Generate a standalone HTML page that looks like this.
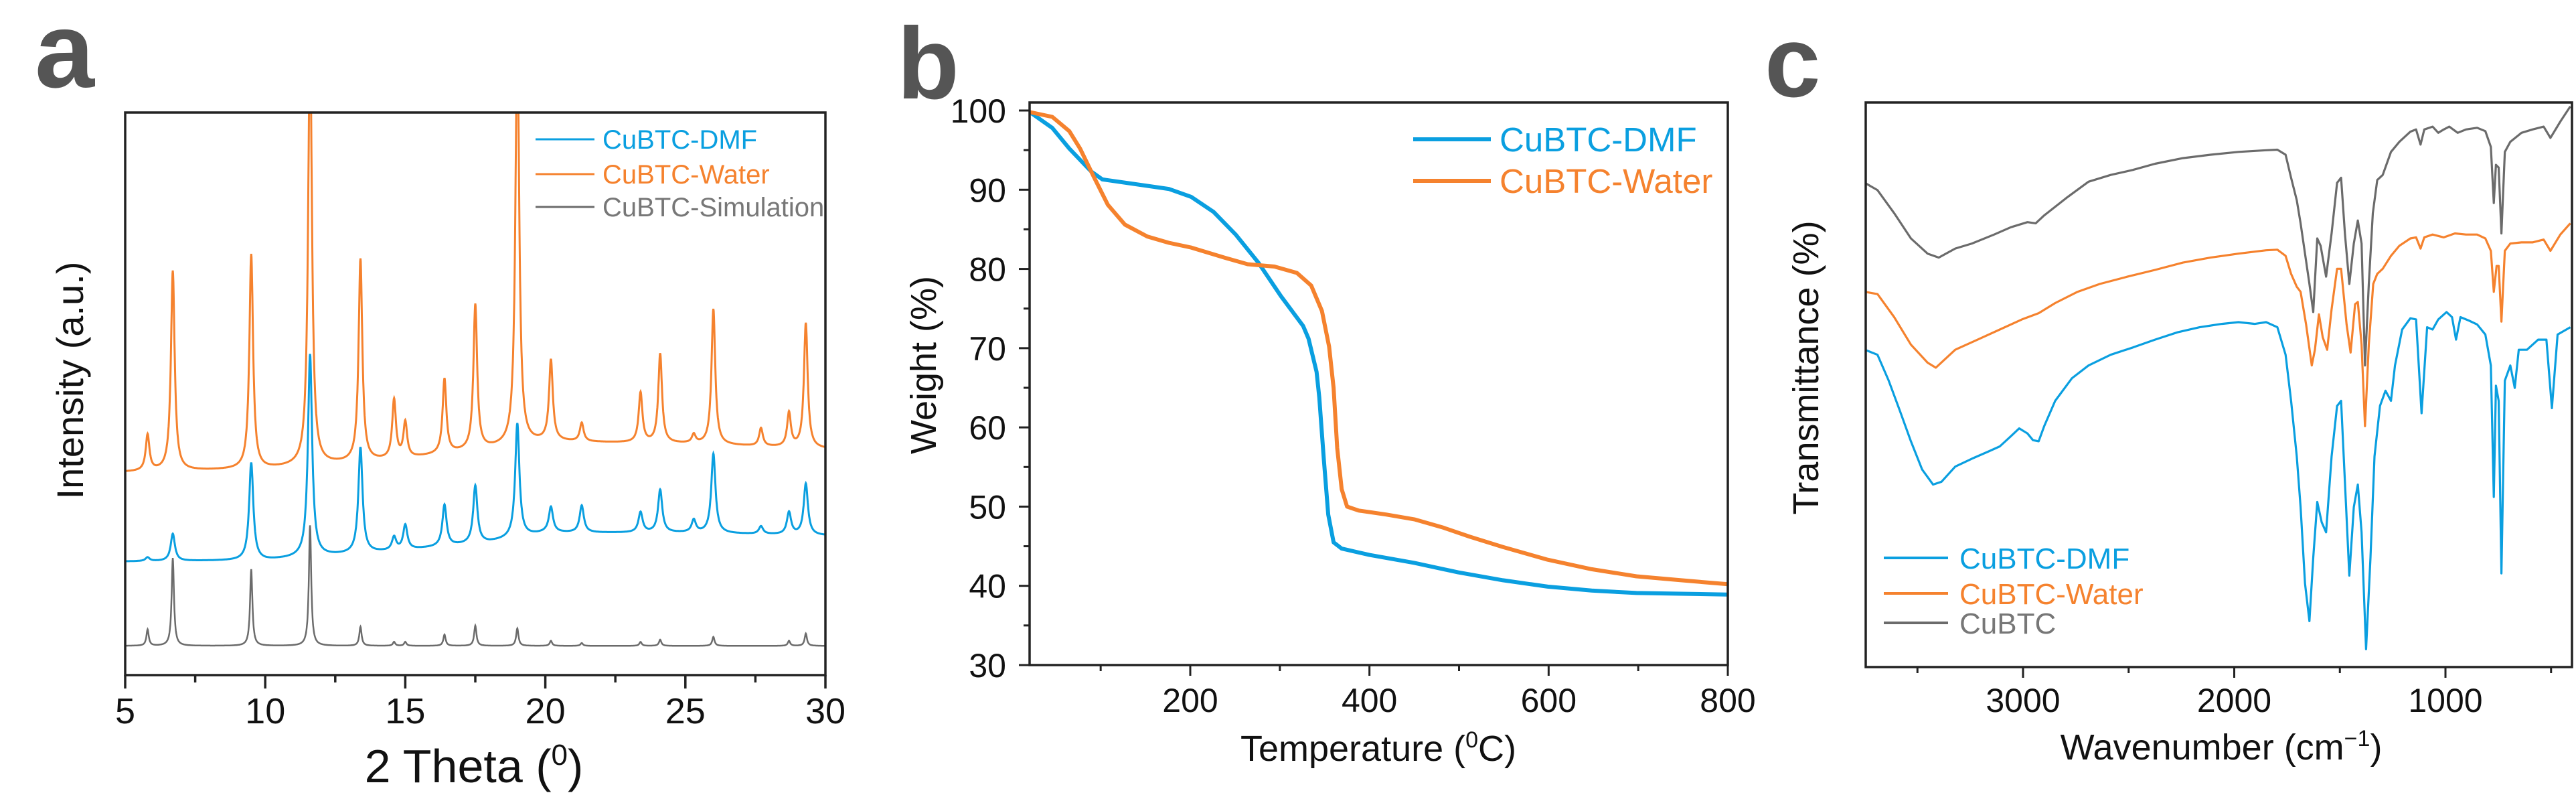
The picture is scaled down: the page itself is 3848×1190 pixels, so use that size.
<!DOCTYPE html>
<html><head><meta charset="utf-8"><style>
html,body{margin:0;padding:0;background:#fff;}
svg{display:block;font-family:"Liberation Sans",Arial,sans-serif;}
</style></head><body>
<svg id="fig" width="3848" height="1190" viewBox="0 0 3848 1190" xmlns="http://www.w3.org/2000/svg">
<defs>
<clipPath id="clipA"><rect x="187" y="168" width="1046" height="840"/></clipPath>
<clipPath id="clipB"><rect x="1538" y="153" width="1045" height="840"/></clipPath>
<clipPath id="clipC"><rect x="2787" y="153" width="1055" height="843"/></clipPath>
</defs>
<text x="52" y="130" font-size="160" font-weight="bold" fill="#555">a</text>
<text x="1340" y="147" font-size="152" font-weight="bold" fill="#555">b</text>
<text x="2636" y="144" font-size="150" font-weight="bold" fill="#555">c</text>
<g id="gA"></g>
<g id="gB"></g>
<g id="gC"></g>
</svg>
<script>
// ---------- Panel a: XRD ----------
const xrdTicks = [5, 10, 15, 20, 25, 30];
const xrdPeakPos = [5.8, 6.7, 9.5, 11.6, 13.4, 14.6, 15.0, 16.4, 17.5, 19.0, 20.2, 21.3, 23.4, 24.1, 25.3, 26.0, 27.7, 28.7, 29.3];
const waterApex = [42.6, 71.8, 74.7, 115, 73.8, 48.7, 44.7, 52.5, 65.7, 115, 55.8, 44.7, 50.1, 57.0, 42.6, 65.0, 43.8, 46.5, 62.5];
const dmfApex = [20.9, 25.1, 37.7, 57.0, 40.4, 24.4, 26.6, 30.2, 33.6, 44.7, 29.8, 30.1, 28.9, 32.9, 27.5, 39.3, 26.4, 28.9, 34.0];
const simApex = [8.1, 20.8, 18.8, 26.6, 8.6, 5.9, 5.9, 7.2, 8.8, 8.3, 6.1, 5.7, 5.9, 6.3, 5.2, 6.8, 5.2, 6.1, 7.4];
const baseX = [5, 10, 15, 18, 20, 25, 30];
const waterBase = [36.1, 36.6, 38.4, 40.2, 41.5, 41.1, 40.2];
const dmfBase = [20.2, 20.4, 22.2, 23.6, 25.3, 25.3, 24.8];
const simBase = [5.2, 5.2, 5.2, 5.2, 5.2, 5.2, 5.2];

// ---------- Panel b: TGA ----------
const tgaXTicks = [200, 400, 600, 800];
const tgaYTicks = [30, 40, 50, 60, 70, 80, 90, 100];
const dmfT = [21, 46, 65, 89.5, 102, 139, 176, 201, 226, 251, 276, 301, 326, 332, 341, 344, 349, 354, 360, 369, 400, 450, 499, 549, 599, 648, 698, 800];
const dmfW = [99.8, 97.8, 95.2, 92.3, 91.3, 90.7, 90.1, 89.1, 87.2, 84.3, 80.8, 76.6, 72.8, 71.2, 67, 63.8, 56.1, 49, 45.5, 44.7, 43.9, 42.9, 41.7, 40.7, 39.9, 39.4, 39.1, 38.9];
const waterT = [21, 46, 65, 77, 92, 108, 127, 152, 176, 201, 239, 264, 294, 319, 335, 347, 355, 360, 364, 369, 375, 388, 419, 450, 481, 512, 549, 599, 648, 698, 748, 800];
const waterW = [99.8, 99.2, 97.4, 95.2, 91.7, 88.1, 85.6, 84.1, 83.3, 82.7, 81.4, 80.6, 80.3, 79.5, 77.9, 74.7, 70.2, 65, 57.4, 52.2, 50, 49.5, 49, 48.4, 47.4, 46.2, 44.9, 43.3, 42.1, 41.2, 40.7, 40.2];

// ---------- Panel c: FTIR ----------
const irTicks = [3000, 2000, 1000];
const irMinor = [3500, 2500, 1500, 500];
const simIR = [[3749,85.7],[3689,84.4],[3610,80.3],[3531,75.8],[3452,73.1],[3399,72.4],[3321,74.0],[3242,74.9],[3137,76.5],[3058,77.8],[2979,78.7],[2940,78.5],[2900,79.9],[2795,83.0],[2690,85.9],[2585,87.1],[2480,88.0],[2375,89.1],[2243,90.1],[2112,90.7],[1980,91.2],[1849,91.5],[1796,91.6],[1757,90.7],[1731,86.6],[1704,82.6],[1686,78.5],[1665,73.1],[1644,67.7],[1626,62.7],[1607,75.8],[1591,74.5],[1565,69.0],[1539,76.7],[1513,85.7],[1494,86.6],[1476,76.7],[1455,67.7],[1434,74.9],[1415,79.0],[1397,74.9],[1381,53.2],[1363,67.7],[1344,80.3],[1323,86.2],[1297,87.1],[1258,91.2],[1218,93.0],[1166,94.8],[1139,95.2],[1118,92.5],[1100,95.2],[1061,95.7],[1034,94.6],[1008,95.2],[982,95.7],[942,94.6],[903,95.2],[850,95.5],[811,94.9],[785,92.1],[771,82.1],[761,88.9],[748,88.4],[735,76.7],[719,91.2],[693,93.0],[640,94.6],[588,95.2],[535,95.7],[503,93.7],[456,96.6],[409,99.3]];
const waterIR = [[3749,66.3],[3689,65.9],[3610,61.8],[3531,56.9],[3452,53.7],[3413,52.8],[3321,56.0],[3215,57.8],[3110,59.6],[3005,61.4],[2926,62.5],[2848,64.3],[2742,66.3],[2637,67.7],[2506,69.0],[2375,70.2],[2243,71.5],[2112,72.4],[1980,73.1],[1849,73.7],[1796,73.8],[1757,72.7],[1731,69.5],[1704,67.2],[1686,66.3],[1660,60.5],[1633,53.2],[1618,56.0],[1599,62.3],[1581,58.2],[1560,56.0],[1539,63.2],[1513,70.4],[1494,70.4],[1468,60.5],[1449,55.5],[1428,64.1],[1415,64.5],[1397,56.9],[1381,42.4],[1363,56.9],[1342,67.7],[1323,69.5],[1297,70.4],[1258,72.7],[1218,74.5],[1166,75.8],[1139,76.0],[1118,74.0],[1100,76.0],[1061,76.5],[1008,76.0],[955,76.7],[903,76.5],[850,76.5],[811,75.8],[785,73.6],[771,66.3],[758,70.9],[748,70.9],[735,61.0],[719,73.6],[693,74.9],[640,75.1],[588,75.1],[535,75.6],[503,73.6],[456,76.5],[409,78.5]];
const dmfIR = [[3749,56.0],[3689,55.1],[3636,50.5],[3583,45.1],[3531,39.7],[3478,34.7],[3426,32.0],[3386,32.5],[3321,35.2],[3242,36.6],[3163,37.9],[3110,38.8],[3058,40.6],[3018,42.0],[2979,41.1],[2953,39.9],[2926,39.7],[2900,42.4],[2848,46.9],[2769,50.9],[2690,53.2],[2585,55.1],[2480,56.4],[2375,57.8],[2269,59.1],[2164,60.0],[2059,60.6],[1980,60.9],[1902,60.6],[1849,60.9],[1796,60.0],[1757,55.1],[1731,46.9],[1704,37.0],[1686,28.0],[1665,14.4],[1644,7.7],[1626,19.0],[1607,28.9],[1586,25.3],[1565,23.5],[1539,37.0],[1513,46.0],[1494,46.9],[1476,32.5],[1455,15.8],[1434,28.0],[1415,32.0],[1397,23.5],[1376,2.7],[1355,19.0],[1336,37.0],[1310,46.0],[1284,48.7],[1258,46.9],[1239,53.2],[1205,59.6],[1166,61.6],[1139,61.4],[1113,44.7],[1087,60.0],[1061,59.6],[1034,61.4],[995,62.7],[969,61.8],[950,57.8],[929,61.8],[890,61.2],[850,60.5],[811,58.7],[785,53.2],[771,29.8],[761,49.6],[748,46.9],[735,16.2],[719,50.5],[693,53.2],[672,49.2],[653,56.0],[614,56.0],[561,57.8],[522,57.8],[496,45.6],[469,58.7],[409,60.0]];

const NS = "http://www.w3.org/2000/svg";
function mk(parent, tag, attrs, text) {
  const el = document.createElementNS(NS, tag);
  for (const k in attrs) el.setAttribute(k, attrs[k]);
  if (text !== undefined) el.textContent = text;
  parent.appendChild(el);
  return el;
}
function interp(xs, ys, x) {
  if (x <= xs[0]) return ys[0];
  for (let i = 1; i < xs.length; i++) if (x <= xs[i]) { const t = (x - xs[i-1]) / (xs[i] - xs[i-1]); return ys[i-1] + t * (ys[i] - ys[i-1]); }
  return ys[ys.length - 1];
}
const BLUE = "#0a9fe0", ORANGE = "#f5822e", GRAY = "#6b6b6b";

// ===== Panel A =====
(function(){
  const g = document.getElementById("gA");
  const L = 187, R = 1233, T = 168, B = 1008;
  const xs = v => L + (v - 5) / 25 * (R - L);
  const ys = v => B - v / 100 * (B - T);
  function series(apex, bx, by, hw) {
    const pts = [];
    for (let x = 5; x <= 30.0001; x += 0.01) {
      let y = interp(bx, by, x);
      for (let i = 0; i < xrdPeakPos.length; i++) {
        const amp = apex[i] - interp(bx, by, xrdPeakPos[i]);
        const d = (x - xrdPeakPos[i]) / hw;
        y += amp / (1 + d * d);
      }
      pts.push(xs(x).toFixed(1) + "," + ys(y).toFixed(1));
    }
    return "M" + pts.join("L");
  }
  const clip = mk(g, "g", {"clip-path": "url(#clipA)"});
  const s1 = mk(clip, "path", {d: series(simApex, baseX, simBase, 0.05), fill: "none", stroke: GRAY, "stroke-width": 2.5});
  
  
  const s2 = mk(clip, "path", {d: series(dmfApex, baseX, dmfBase, 0.09), fill: "none", stroke: BLUE, "stroke-width": 3});
  
  
  const s3 = mk(clip, "path", {d: series(waterApex, baseX, waterBase, 0.08), fill: "none", stroke: ORANGE, "stroke-width": 3});
  
  
  const box = mk(g, "rect", {x: L, y: T, width: R - L, height: B - T, fill: "none", stroke: "#222", "stroke-width": 3.5});
  
  
  for (let v = 5; v <= 30; v += 2.5) {
    const major = xrdTicks.indexOf(v) >= 0;
    const t = mk(g, "line", {x1: xs(v), x2: xs(v), y1: B, y2: B + (major ? 20 : 11), stroke: "#222", "stroke-width": 3.5});
    
    
  }
  xrdTicks.forEach(v => {
    const t = mk(g, "text", {x: xs(v), y: 1080, "font-size": 54, "text-anchor": "middle", fill: "#111"}, String(v));
    
    
  });
  const xt = mk(g, "text", {x: 708, y: 1168, "font-size": 70, "text-anchor": "middle", fill: "#111"});
  
  
  xt.innerHTML = '2 Theta (<tspan dy="-26" font-size="44">0</tspan><tspan dy="26">)</tspan>';
  const yt = mk(g, "text", {x: 0, y: 0, "font-size": 56, "text-anchor": "middle", fill: "#111", transform: "translate(124,568) rotate(-90)"}, "Intensity (a.u.)");
  
  
  const leg = [["CuBTC-DMF", BLUE, 208, BLUE], ["CuBTC-Water", ORANGE, 260, ORANGE], ["CuBTC-Simulation", GRAY, 309, "#777"]];
  leg.forEach(l => {
    const ln = mk(g, "line", {x1: 800, x2: 888, y1: l[2], y2: l[2], stroke: l[1], "stroke-width": 3});
    
    
    const tx = mk(g, "text", {x: 900, y: l[2] + 14, "font-size": 40, fill: l[3]}, l[0]);
    
    
  });
})();

// ===== Panel B =====
(function(){
  const g = document.getElementById("gB");
  const L = 1538, R = 2581, T = 153, B = 993;
  const xs = v => 1778 + (v - 200) * (R - 1778) / 600;
  const ys = v => 165 + (100 - v) * (B - 165) / 70;
  const clip = mk(g, "g", {"clip-path": "url(#clipB)"});
  function path(tx, wy) { return "M" + tx.map((t, i) => xs(t).toFixed(1) + "," + ys(wy[i]).toFixed(1)).join("L"); }
  const p1 = mk(clip, "path", {d: path(dmfT, dmfW), fill: "none", stroke: BLUE, "stroke-width": 6, "stroke-linejoin": "round"});
  
  
  const p2 = mk(clip, "path", {d: path(waterT, waterW), fill: "none", stroke: ORANGE, "stroke-width": 6, "stroke-linejoin": "round"});
  
  
  const box = mk(g, "rect", {x: L, y: T, width: R - L, height: B - T, fill: "none", stroke: "#222", "stroke-width": 3.5});
  
  
  for (let v = 100; v <= 800; v += 100) {
    const major = tgaXTicks.indexOf(v) >= 0;
    const t = mk(g, "line", {x1: xs(v), x2: xs(v), y1: B, y2: B + (major ? 16 : 9), stroke: "#222", "stroke-width": 3});
    
    
  }
  tgaXTicks.forEach(v => {
    const t = mk(g, "text", {x: xs(v), y: 1063, "font-size": 50, "text-anchor": "middle", fill: "#111"}, String(v));
    
    
  });
  for (let v = 30; v <= 100; v += 5) {
    const major = tgaYTicks.indexOf(v) >= 0;
    const t = mk(g, "line", {x1: L - (major ? 16 : 9), x2: L, y1: ys(v), y2: ys(v), stroke: "#222", "stroke-width": 3});
    
    
  }
  tgaYTicks.forEach(v => {
    const t = mk(g, "text", {x: 1503, y: ys(v) + 18, "font-size": 50, "text-anchor": "end", fill: "#111"}, String(v));
    
    
  });
  const xt = mk(g, "text", {x: 2059, y: 1136, "font-size": 54, "text-anchor": "middle", fill: "#111"});
  
  
  xt.innerHTML = 'Temperature (<tspan dy="-20" font-size="34">0</tspan><tspan dy="20">C)</tspan>';
  const yt = mk(g, "text", {x: 0, y: 0, "font-size": 54, "text-anchor": "middle", fill: "#111", transform: "translate(1398,545) rotate(-90)"}, "Weight (%)");
  
  
  const leg = [["CuBTC-DMF", BLUE, 208], ["CuBTC-Water", ORANGE, 270]];
  leg.forEach(l => {
    const ln = mk(g, "line", {x1: 2111, x2: 2227, y1: l[2], y2: l[2], stroke: l[1], "stroke-width": 6});
    
    
    const tx = mk(g, "text", {x: 2240, y: l[2] + 18, "font-size": 51, fill: l[1]}, l[0]);
    
    
  });
})();

// ===== Panel C =====
(function(){
  const g = document.getElementById("gC");
  const L = 2787, R = 3842, T = 153, B = 996;
  const xs = v => 3022 + (3000 - v) * 0.3155;
  const ys = v => 992 - v / 100 * (992 - 153);
  const clip = mk(g, "g", {"clip-path": "url(#clipC)"});
  function path(arr) { return "M" + arr.map(p => xs(p[0]).toFixed(1) + "," + ys(p[1]).toFixed(1)).join("L"); }
  const p0 = mk(clip, "path", {d: path(simIR), fill: "none", stroke: GRAY, "stroke-width": 3.2, "stroke-linejoin": "round"});
  
  
  const p1 = mk(clip, "path", {d: path(waterIR), fill: "none", stroke: ORANGE, "stroke-width": 3.2, "stroke-linejoin": "round"});
  
  
  const p2 = mk(clip, "path", {d: path(dmfIR), fill: "none", stroke: BLUE, "stroke-width": 3.2, "stroke-linejoin": "round"});
  
  
  const box = mk(g, "rect", {x: L, y: T, width: R - L, height: B - T, fill: "none", stroke: "#222", "stroke-width": 3.5});
  
  
  irTicks.forEach(v => {
    const t = mk(g, "line", {x1: xs(v), x2: xs(v), y1: B, y2: B + 16, stroke: "#222", "stroke-width": 3});
    
    
    const lb = mk(g, "text", {x: xs(v), y: 1063, "font-size": 50, "text-anchor": "middle", fill: "#111"}, String(v));
    
    
  });
  irMinor.forEach(v => {
    const t = mk(g, "line", {x1: xs(v), x2: xs(v), y1: B, y2: B + 9, stroke: "#222", "stroke-width": 3});
    
    
  });
  const xt = mk(g, "text", {x: 3318, y: 1134, "font-size": 54, "text-anchor": "middle", fill: "#111"});
  
  
  xt.innerHTML = 'Wavenumber (cm<tspan dy="-20" font-size="34">−1</tspan><tspan dy="20">)</tspan>';
  const yt = mk(g, "text", {x: 0, y: 0, "font-size": 54, "text-anchor": "middle", fill: "#111", transform: "translate(2716,549) rotate(-90)"}, "Transmittance (%)");
  
  
  const leg = [["CuBTC-DMF", BLUE, 833, BLUE], ["CuBTC-Water", ORANGE, 886, ORANGE], ["CuBTC", GRAY, 930, "#777"]];
  leg.forEach(l => {
    const ln = mk(g, "line", {x1: 2814, x2: 2910, y1: l[2], y2: l[2], stroke: l[1], "stroke-width": 4});
    
    
    const tx = mk(g, "text", {x: 2927, y: l[2] + 16, "font-size": 44, fill: l[3]}, l[0]);
    
    
  });
})();
</script>
</body></html>
